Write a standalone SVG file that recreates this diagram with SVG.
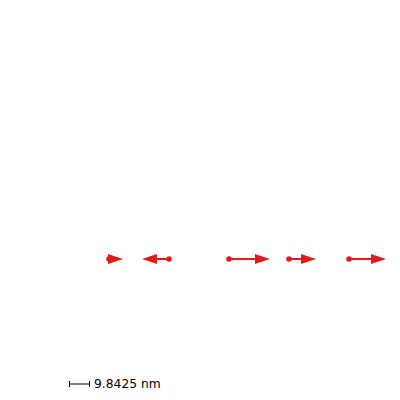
<svg xmlns="http://www.w3.org/2000/svg" width="400" height="400" viewBox="0 0 400 400">
<style>
.c{stroke:#e31a1c;stroke-width:2;fill:none}
.d{fill:#e31a1c}
.h{fill:#e31a1c}
.sb{stroke:#000;stroke-width:1;fill:none}
.t{font-family:"DejaVu Sans",sans-serif;font-size:12.3px;fill:#000}
</style>
<rect width="400" height="400" fill="#fff"/>
<g id="connectors">
<line class="c" x1="169" y1="259" x2="157" y2="259"/>
<line class="c" x1="229" y1="259" x2="256" y2="259"/>
<line class="c" x1="289" y1="259" x2="302" y2="259"/>
<line class="c" x1="349" y1="259" x2="372" y2="259"/>
</g>
<g id="arrow1"><circle class="d" cx="109" cy="259" r="2.8"/><polygon class="h" points="108,254 123,259 108,264"/></g>
<g id="arrow2"><circle class="d" cx="169" cy="259" r="2.8"/><polygon class="h" points="157,254 142,259 157,264"/></g>
<g id="arrow3"><circle class="d" cx="229" cy="259" r="2.8"/><polygon class="h" points="255,254 270,259 255,264"/></g>
<g id="arrow4"><circle class="d" cx="289" cy="259" r="2.8"/><polygon class="h" points="301,254 316,259 301,264"/></g>
<g id="arrow5"><circle class="d" cx="349" cy="259" r="2.8"/><polygon class="h" points="371,254 386,259 371,264"/></g>
<g id="scalebar">
<path class="sb" d="M69.5,381 V387 M69.5,384 H89.5 M89.5,381 V387"/>
<text class="t" x="94" y="388">9.8425 nm</text>
</g>
</svg>
